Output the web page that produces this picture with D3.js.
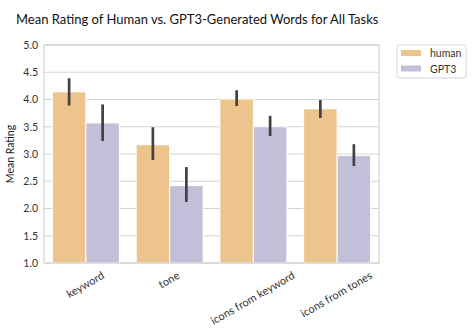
<!DOCTYPE html>
<html>
<head>
<meta charset="utf-8">
<script src="https://cdn.jsdelivr.net/npm/d3@7"></script>
<style>
  body { margin: 0; background: #fff; }
  text { font-family: Lato, "DejaVu Sans", sans-serif; }
</style>
</head>
<body>
<div id="wrapper"></div>
<script>
// data
const tasks = ["keyword", "tone", "icons from keyword", "icons from tones"]
const sources = ["human", "GPT3"]
const humanMean = [4.14, 3.17, 4.01, 3.83]
const humanLow = [3.89, 2.89, 3.88, 3.66]
const humanHigh = [4.39, 3.49, 4.17, 3.99]
const gptMean = [3.57, 2.42, 3.50, 2.97]
const gptLow = [3.24, 2.12, 3.33, 2.78]
const gptHigh = [3.91, 2.76, 3.70, 3.18]
const yTicks = [1.0, 1.5, 2.0, 2.5, 3.0, 3.5, 4.0, 4.5, 5.0]

const colors = { human: "#eec48d", GPT3: "#c4bfd8" }

const rows = []
tasks.forEach((t, i) => {
    rows.push({ task: t, source: "human", mean: humanMean[i], lo: humanLow[i], hi: humanHigh[i] })
    rows.push({ task: t, source: "GPT3", mean: gptMean[i], lo: gptLow[i], hi: gptHigh[i] })
})

let dimensions = {
    width: 473,
    height: 334,
    margin: { top: 45, right: 94, bottom: 71, left: 44 },
}
dimensions.boundedWidth = dimensions.width - dimensions.margin.left - dimensions.margin.right
dimensions.boundedHeight = dimensions.height - dimensions.margin.top - dimensions.margin.bottom

const wrapper = d3.select("#wrapper")
    .append("svg")
    .attr("width", dimensions.width)
    .attr("height", dimensions.height)

const bounds = wrapper.append("g")
    .attr("transform", `translate(${dimensions.margin.left},${dimensions.margin.top})`)

const xScaler = d3.scaleBand()
    .domain(tasks)
    .range([0, dimensions.boundedWidth])
    .paddingInner(0.2)
    .paddingOuter(0.1)

const xInner = d3.scaleBand()
    .domain(sources)
    .range([0, xScaler.bandwidth()])

const yScaler = d3.scaleLinear()
    .domain([1, 5])
    .range([dimensions.boundedHeight, 0])

// grid
bounds.append("g")
    .selectAll("line")
    .data(yTicks)
    .enter()
    .append("line")
    .attr("x1", 0)
    .attr("x2", dimensions.boundedWidth)
    .attr("y1", d => yScaler(d))
    .attr("y2", d => yScaler(d))
    .attr("stroke", "#d4d4d4")
    .attr("stroke-width", 1)

// bars
const bars = bounds.append("g")
bars.selectAll("rect")
    .data(rows)
    .enter()
    .append("rect")
    .attr("x", d => xScaler(d.task) + xInner(d.source))
    .attr("y", d => yScaler(d.mean))
    .attr("width", xInner.bandwidth())
    .attr("height", d => yScaler(1) - yScaler(d.mean))
    .attr("fill", d => colors[d.source])
    .attr("stroke", "#fff")
    .attr("stroke-width", 1)

// error bars
bars.selectAll("line")
    .data(rows)
    .enter()
    .append("line")
    .attr("x1", d => xScaler(d.task) + xInner(d.source) + xInner.bandwidth() / 2)
    .attr("x2", d => xScaler(d.task) + xInner(d.source) + xInner.bandwidth() / 2)
    .attr("y1", d => yScaler(d.lo))
    .attr("y2", d => yScaler(d.hi))
    .attr("stroke", "#424242")
    .attr("stroke-width", 2.7)

// spines
bounds.append("rect")
    .attr("x", 0)
    .attr("y", 0)
    .attr("width", dimensions.boundedWidth)
    .attr("height", dimensions.boundedHeight)
    .attr("fill", "none")
    .attr("stroke", "#cccccc")
    .attr("stroke-width", 1)

// y axis
const yAxisGen = d3.axisLeft(yScaler)
    .tickValues(yTicks)
    .tickFormat(d3.format(".1f"))
    .tickSize(0)
    .tickPadding(6)
const yAxis = bounds.append("g").call(yAxisGen)
yAxis.select(".domain").remove()
yAxis.selectAll("text")
    .attr("font-size", "10.5px")
    .attr("fill", "#333")
    .style("font-family", "Lato, 'DejaVu Sans', sans-serif")

// x tick labels, rotated 30deg and centred on the tick
const xLabels = bounds.append("g")
    .selectAll("text")
    .data(tasks)
    .enter()
    .append("text")
    .text(d => d)
    .attr("font-size", "11px")
    .attr("fill", "#333")
    .attr("text-anchor", "middle")
    .attr("dominant-baseline", "central")
xLabels.each(function (d) {
    const w = this.getComputedTextLength()
    const h = 11
    const boxH = w * 0.5 + h * 0.866
    const cx = xScaler(d) + xScaler.bandwidth() / 2 - 1
    const cy = dimensions.boundedHeight + 6 + boxH / 2
    d3.select(this)
        .attr("x", 0)
        .attr("y", 0)
        .attr("transform", `translate(${cx},${cy})rotate(-30)`)
})

const yLabel = wrapper.append("text")
    .attr("transform", `translate(14,${dimensions.margin.top + dimensions.boundedHeight / 2})rotate(-90)`)
    .text("Mean Rating")
    .attr("fill", "#222")
    .attr("font-size", "10.5px")
    .attr("text-anchor", "middle")

const chart = wrapper.append("text")
    .attr("x", 16)
    .attr("y", 24)
    .text("Mean Rating of Human vs. GPT3-Generated Words for All Tasks")
    .attr("fill", "#111")
    .attr("font-size", "13px")

// legend
const legend = wrapper.append("g")
    .attr("transform", "translate(397,45)")
legend.append("rect")
    .attr("width", 69)
    .attr("height", 33)
    .attr("rx", 2)
    .attr("fill", "#fff")
    .attr("stroke", "#d6d6d6")
const items = legend.selectAll("g")
    .data(sources)
    .enter()
    .append("g")
    .attr("transform", (d, i) => `translate(0,${8 + i * 15.5})`)
items.append("rect")
    .attr("x", 4)
    .attr("y", -3)
    .attr("width", 20)
    .attr("height", 6)
    .attr("fill", d => colors[d])
items.append("text")
    .attr("x", 33)
    .attr("y", 0)
    .attr("dominant-baseline", "central")
    .text(d => d)
    .attr("font-size", "10.5px")
    .attr("fill", "#333")
</script>
</body>
</html>
